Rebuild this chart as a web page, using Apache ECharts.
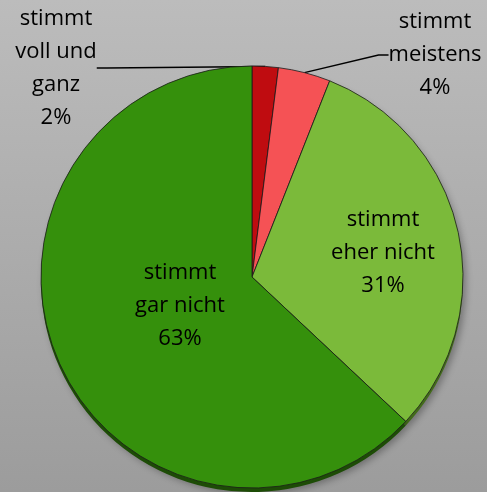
<!DOCTYPE html>
<html>
<head>
<meta charset="utf-8">
<script src="https://cdn.jsdelivr.net/npm/echarts@6/dist/echarts.min.js"></script>
<style>
html,body{margin:0;padding:0;}
#chartBox{width:487px;height:492px;background:linear-gradient(#bcbcbc,#9c9c9c);}
</style>
</head>
<body>
<div id="chartBox"></div>
<script>
// Antworten (im Uhrzeigersinn ab 12 Uhr)
const names = ['stimmt\nvoll und\nganz', 'stimmt\nmeistens', 'stimmt\neher nicht', 'stimmt\ngar nicht'];
const values = [2, 4, 31, 63];
const colors = ['#bf0c10', '#f55255', '#7bba3a', '#35900c'];
const rimColors = ['#6a0507', '#8a2a2b', '#426a1a', '#1d4c06'];
// Label-Positionen (Mittelpunkt des Textes)
const labelPos = [[56, 68], [435, 55], [383, 253], [180, 306]];
const outside = [true, true, false, false];

let data = [];
let rimData = [];
for (let i = 0; i < values.length; i++) {
	data.push({
		value: values[i],
		name: names[i],
		itemStyle: {color: colors[i]},
		label: {position: outside[i] ? 'outside' : 'inside'},
		labelLine: {show: outside[i]}
	});
	rimData.push({value: values[i], name: names[i], itemStyle: {color: rimColors[i]}});
}

let myChart = echarts.init(document.getElementById('chartBox'));
let option = {
	backgroundColor: 'transparent',
	animation: false,
	series: [{
		// untere Kante (3D-Effekt)
		type: 'pie',
		silent: true,
		center: [252, 281],
		radius: [0, 211],
		startAngle: 90,
		label: {show: false},
		labelLine: {show: false},
		itemStyle: {
			borderWidth: 0,
			shadowColor: 'rgba(0,0,0,0.3)',
			shadowBlur: 7,
			shadowOffsetX: 3,
			shadowOffsetY: 2
		},
		data: rimData
	}, {
		type: 'pie',
		center: [252, 277],
		radius: [0, 211],
		startAngle: 90,
		percentPrecision: 0,
		itemStyle: {
			borderColor: '#1a1a1a',
			borderWidth: 0.8
		},
		label: {
			show: true,
			formatter: '{b}\n{d}%',
			color: '#000',
			fontSize: 22,
			lineHeight: 33,
			fontFamily: 'Open Sans',
			align: 'center',
			overflow: 'none',
			edgeDistance: 0
		},
		labelLine: {
			lineStyle: {color: '#000', width: 1.5},
			length: 10,
			length2: 10
		},
		labelLayout: function (params) {
			let p = labelPos[params.dataIndex];
			return {x: p[0], y: p[1], align: 'center', verticalAlign: 'middle'};
		},
		data: data
	}]
};
myChart.setOption(option);
</script>
</body>
</html>
